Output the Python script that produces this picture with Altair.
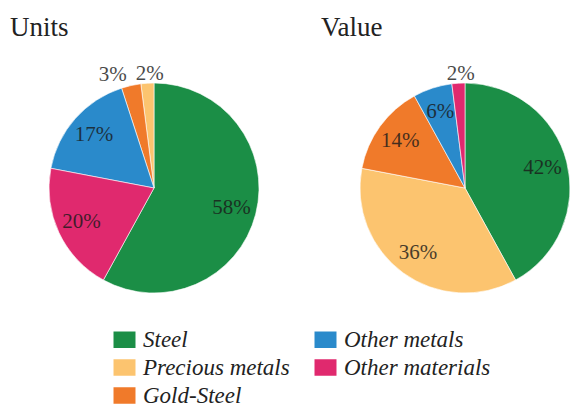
import altair as alt
import pandas as pd

categories = ["Steel", "Precious metals", "Gold-Steel", "Other metals", "Other materials"]
colors = ["#1b8e46", "#fcc46f", "#f07a2a", "#2a8acb", "#e0296e"]
pies = ["Units", "Value"]
units_values = [58, 2, 3, 17, 20]
value_values = [42, 36, 14, 6, 2]
units_order = ["Steel", "Other materials", "Other metals", "Gold-Steel", "Precious metals"]
value_order = ["Steel", "Precious metals", "Gold-Steel", "Other metals", "Other materials"]

rows = []
for i, (pie, vals, order) in enumerate(zip(pies, [units_values, value_values], [units_order, value_order])):
    for cat, v in zip(categories, vals):
        rows.append(dict(pie=pie, idx=i, category=cat, value=v, order=order.index(cat)))
df = pd.DataFrame(rows)
titles = pd.DataFrame({"pie": pies, "idx": list(range(len(pies)))})

SERIF = "Liberation Serif"

x_enc = alt.X("idx:Q", stack=None, scale=alt.Scale(domain=[0, 1], range=[154, 465]), axis=None)
y_val = alt.value(188)
theta_scale = alt.Scale(domain=[0, 100])

base = alt.Chart(df).transform_window(
    end="sum(value)", groupby=["pie"], sort=[alt.SortField("order")], frame=[None, 0]
).transform_calculate(
    start="datum.end - datum.value",
    mid="datum.end - datum.value / 2",
    label="datum.value + '%'",
)

arcs = base.mark_arc(outerRadius=105, stroke="white", strokeWidth=0.6).encode(
    x=x_enc,
    y=y_val,
    theta=alt.Theta("start:Q", scale=theta_scale, stack=None),
    theta2="end:Q",
    color=alt.Color(
        "category:N",
        scale=alt.Scale(domain=categories, range=colors),
        legend=alt.Legend(
            title=None,
            orient="none",
            legendX=113,
            legendY=328,
            columns=2,
            columnPadding=24,
            rowPadding=4,
            symbolType="M-1,-0.75H1V0.75H-1Z",
            symbolSize=484,
            symbolStrokeWidth=0,
            symbolOpacity=1,
            labelFont=SERIF,
            labelFontStyle="italic",
            labelFontSize=23,
            labelColor="#222222",
            labelOffset=7,
            padding=0,
        ),
    ),
)

label_font = dict(font=SERIF, fontSize=21, color="#1a1a1a", opacity=0.8)

inside = base.transform_filter("datum.value >= 5").mark_text(**label_font).encode(
    x=x_enc, y=y_val,
    theta=alt.Theta("mid:Q", scale=theta_scale, stack=None),
    radius=alt.value(80),
    text="label:N",
)

outside_left = base.transform_filter("datum.value < 5 && datum.mid < 98").mark_text(
    align="right", dx=-2, **label_font
).encode(
    x=x_enc, y=y_val,
    theta=alt.Theta("mid:Q", scale=theta_scale, stack=None),
    radius=alt.value(116),
    text="label:N",
)

outside_top = base.transform_filter("datum.value < 5 && datum.mid >= 98").mark_text(
    align="center", dx=3, **label_font
).encode(
    x=x_enc, y=y_val,
    theta=alt.Theta("mid:Q", scale=theta_scale, stack=None),
    radius=alt.value(114),
    text="label:N",
)

title_text = alt.Chart(titles).mark_text(
    font=SERIF, fontSize=27, align="left", baseline="alphabetic", dx=-144, color="#222222"
).encode(x=x_enc, y=alt.value(36), text="pie:N")

chart = alt.layer(arcs, inside, outside_left, outside_top, title_text).properties(
    width=570, height=407, padding=0, autosize=alt.AutoSizeParams(type="none")
).configure_view(stroke=None)

chart.save("out.html", embed_options={"renderer": "svg", "actions": False})
